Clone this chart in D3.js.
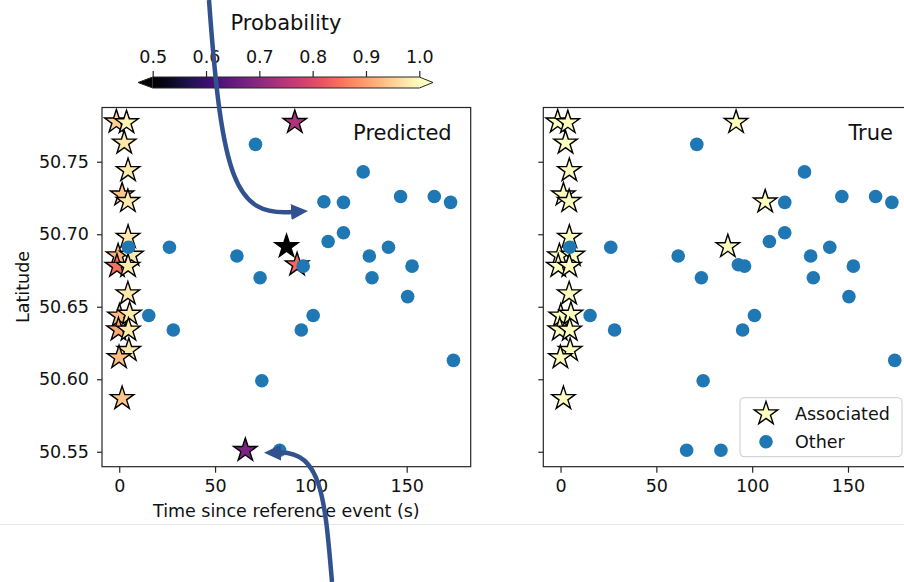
<!DOCTYPE html>
<html>
<head>
<meta charset="utf-8">
<script src="https://cdn.jsdelivr.net/npm/d3@7"></script>
<style>
body { margin: 0; background: #fff; }
svg { display: block; font-family: "DejaVu Sans", sans-serif; }
</style>
</head>
<body>
<div id="chart"></div>
<script>
// one entry per event: time (s), latitude, true label, predicted probability (null = predicted "other")
const eventTime = [-1.5, 3.8, 2.6, 4.6, 1.5, 4.5, 4.6, -0.6, 6.4, -1.2, 4.6, 4.5, 0.1, 5.4, -0.4, 4.8, 5.0, -0.1, 1.5,
    91.6, 106.8, 87.3,
    4.8, 15.4, 26.2, 28.2, 61.4, 65.8, 71.1, 73.5, 74.4, 83.7, 92.8, 96.0, 95.0, 101.2, 109.0, 117.0, 117.0,
    127.3, 130.5, 131.9, 140.5, 146.8, 150.5, 152.8, 164.4, 172.9, 174.4];
const eventLat = [50.7775, 50.777, 50.763, 50.744, 50.7272, 50.7227, 50.698, 50.6852, 50.6856, 50.678, 50.678, 50.659,
    50.6437, 50.645, 50.6342, 50.634, 50.620, 50.615, 50.5868,
    50.7772, 50.7224, 50.6915,
    50.691, 50.644, 50.691, 50.634, 50.685, 50.551, 50.762, 50.670, 50.599, 50.551, 50.679, 50.678, 50.634, 50.644,
    50.695, 50.722, 50.701, 50.743, 50.685, 50.670, 50.691, 50.726, 50.657, 50.678, 50.726, 50.722, 50.613];
const isAssociated = [1, 1, 1, 1, 1, 1, 1, 1, 1, 1, 1, 1, 1, 1, 1, 1, 1, 1, 1,
    1, 1, 1,
    0, 0, 0, 0, 0, 0, 0, 0, 0, 0, 0, 0, 0, 0, 0, 0, 0, 0, 0, 0, 0, 0, 0, 0, 0, 0, 0];
const predProb = [0.95, 0.99, 0.975, 0.98, 0.94, 0.98, 0.975, 0.92, 0.98, 0.85, 0.98, 0.975, 0.93, 0.98, 0.91, 0.98, 0.975, 0.93, 0.94,
    0.74, null, 0.48,
    null, null, null, null, null, 0.68, null, null, null, null, 0.84, null, null, null, null, null, null,
    null, null, null, null, null, null, null, null, null, null];

const xTicks = [0, 50, 100, 150];
const yTicks = [50.55, 50.60, 50.65, 50.70, 50.75];
const probTicks = [0.5, 0.6, 0.7, 0.8, 0.9, 1.0];
const panelTitles = ["Predicted", "True"];
const legendLabels = ["Associated", "Other"];

var W = 904, H = 582;
var svg = d3.select("#chart").append("svg").attr("width", W).attr("height", H);

var plotTop = 107.5, plotBottom = 466.7, pw = 368.7;
var panelLeft = [102, 543.3];
var fs = 17.5;

var events = eventTime.map((t, i) => ({t: t, lat: eventLat[i], assoc: isAssociated[i], p: predProb[i]}));
var x = d3.scaleLinear().domain([-9, 183.4]).range([0, pw]);
var y = d3.scaleLinear().domain([50.5397, 50.7874]).range([plotBottom, plotTop]);
var color = d3.scaleSequential(d3.interpolateMagma).domain([0.5, 1]).clamp(true);
var starPath = d3.symbol(d3.symbolStar, 170)();

// separator line under the figure
svg.append("line").attr("x1", 0).attr("x2", W).attr("y1", 524.5).attr("y2", 524.5).attr("stroke", "#e6e6e6");

panelTitles.forEach((title, k) => {
    var g = svg.append("g").attr("transform", `translate(${panelLeft[k]},0)`);
    var stars, dots, starColor;
    if (k === 0) {
        stars = events.filter(d => d.p !== null);
        dots = events.filter(d => d.p === null);
        starColor = d => color(d.p);
    } else {
        stars = events.filter(d => d.assoc === 1);
        dots = events.filter(d => d.assoc === 0);
        starColor = d => color(1);
    }

    var xa = g.append("g").attr("transform", `translate(0,${plotBottom})`)
        .call(d3.axisBottom(x).tickValues(xTicks).tickSize(6).tickPadding(7));
    var ya = g.append("g")
        .call(d3.axisLeft(y).tickValues(yTicks).tickSize(5).tickPadding(8)
            .tickFormat(k === 0 ? d3.format(".2f") : () => ""));
    [xa, ya].forEach(a => {
        a.select(".domain").remove();
        a.attr("font-size", fs).attr("font-family", "DejaVu Sans, sans-serif");
        a.selectAll("line").attr("stroke", "#262626").attr("stroke-width", 1.2);
        a.selectAll("text").attr("fill", "#111");
    });

    g.selectAll(".star").data(stars).enter().append("path").attr("class", "star")
        .attr("d", starPath).attr("transform", d => `translate(${x(d.t)},${y(d.lat)})`)
        .attr("fill", starColor).attr("stroke", "#000").attr("stroke-width", 1.4).attr("stroke-linejoin", "miter");

    g.selectAll(".dot").data(dots).enter().append("circle").attr("class", "dot")
        .attr("cx", d => x(d.t)).attr("cy", d => y(d.lat)).attr("r", 6.8).attr("fill", "#1f77b4");

    g.append("rect").attr("x", 0).attr("y", plotTop).attr("width", pw).attr("height", plotBottom - plotTop)
        .attr("fill", "none").attr("stroke", "#262626").attr("stroke-width", 1.2);

    g.append("text").attr("x", pw - 19).attr("y", 140).attr("text-anchor", "end")
        .attr("font-size", 21).attr("fill", "#111").text(title);

    if (k === 1) {
        var lg = g.append("g").attr("transform", `translate(${pw - 10 - 162},${plotBottom - 10 - 59})`);
        lg.append("rect").attr("width", 162).attr("height", 59).attr("rx", 4)
            .attr("fill", "#fff").attr("fill-opacity", 0.8).attr("stroke", "#cccccc");
        lg.append("path").attr("d", starPath).attr("transform", "translate(26,16)")
            .attr("fill", color(1)).attr("stroke", "#000").attr("stroke-width", 1.4);
        lg.append("circle").attr("cx", 26).attr("cy", 44).attr("r", 6.8).attr("fill", "#1f77b4");
        legendLabels.forEach((lab, i) => {
            lg.append("text").attr("x", 55).attr("y", 16 + i * 28).attr("dy", "0.35em")
                .attr("font-size", fs).attr("fill", "#111").text(lab);
        });
    }
});

svg.append("text").attr("transform", "translate(29,287) rotate(-90)").attr("text-anchor", "middle")
    .attr("font-size", fs).attr("fill", "#111").text("Latitude");
svg.append("text").attr("x", panelLeft[0] + pw / 2).attr("y", 517).attr("text-anchor", "middle")
    .attr("font-size", fs).attr("fill", "#111").text("Time since reference event (s)");

// colorbar
var c = d3.scaleLinear().domain([0.5, 1]).range([152.7, 419.3]);
var cbTop = 77, cbBot = 88, cbMid = (cbTop + cbBot) / 2;
var grad = svg.append("defs").append("linearGradient").attr("id", "magma")
    .attr("x1", "0%").attr("x2", "100%").attr("y1", "0%").attr("y2", "0%");
d3.range(0, 1.0001, 0.05).forEach(s => {
    grad.append("stop").attr("offset", (s * 100) + "%").attr("stop-color", d3.interpolateMagma(s));
});
svg.append("rect").attr("x", c(0.5)).attr("y", cbTop).attr("width", c(1) - c(0.5)).attr("height", cbBot - cbTop)
    .attr("fill", "url(#magma)");
svg.append("path").attr("d", `M${c(0.5)},${cbTop} L138,${cbMid} L${c(0.5)},${cbBot} Z`).attr("fill", color(0.5));
svg.append("path").attr("d", `M${c(1)},${cbTop} L433,${cbMid} L${c(1)},${cbBot} Z`).attr("fill", color(1));
svg.append("path")
    .attr("d", `M${c(0.5)},${cbTop} L${c(1)},${cbTop} L433,${cbMid} L${c(1)},${cbBot} L${c(0.5)},${cbBot} L138,${cbMid} Z`)
    .attr("fill", "none").attr("stroke", "#262626").attr("stroke-width", 1);
var ca = svg.append("g").attr("transform", `translate(0,${cbTop})`)
    .call(d3.axisTop(c).tickValues(probTicks).tickFormat(d3.format(".1f")).tickSize(6).tickPadding(8));
ca.select(".domain").remove();
ca.attr("font-size", fs).attr("font-family", "DejaVu Sans, sans-serif");
ca.selectAll("line").attr("stroke", "#262626").attr("stroke-width", 1.2);
ca.selectAll("text").attr("fill", "#111");
svg.append("text").attr("x", 286).attr("y", 30).attr("text-anchor", "middle")
    .attr("font-size", 21).attr("fill", "#111").text("Probability");

// annotation arrows
var arrowColor = "#31528f";
svg.append("defs").append("marker").attr("id", "head").attr("markerUnits", "userSpaceOnUse")
    .attr("viewBox", "0 -9 18 18").attr("markerWidth", 18).attr("markerHeight", 18)
    .attr("refX", 1).attr("refY", 0).attr("orient", "auto")
    .append("path").attr("d", "M0,-8 L17,0 L0,8 Z").attr("fill", arrowColor);
var arrows = [
    "M209,0 C222,180 235,216 292,212",
    "M332,582 C325,500 322,452 280,452.5"
];
arrows.forEach(a => {
    svg.append("path").attr("d", a).attr("fill", "none").attr("stroke", arrowColor)
        .attr("stroke-width", 4.5).attr("marker-end", "url(#head)");
});
</script>
</body>
</html>
